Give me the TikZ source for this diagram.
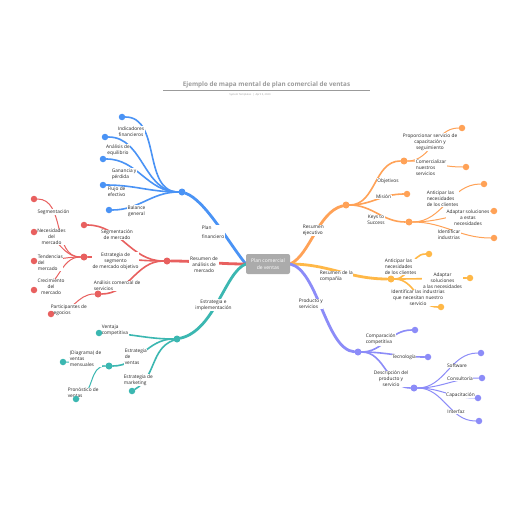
\documentclass[tikz,border=0pt]{standalone}
\usepackage{fontspec}
\setmainfont{Open Sans}
\usepackage{xcolor}
\usepackage{tikz}

\definecolor{mmblue}{HTML}{4A93F5}
\definecolor{mmred}{HTML}{E8605F}
\definecolor{mmteal}{HTML}{3BB7B1}
\definecolor{mmorange}{HTML}{FFA257}
\definecolor{mmyellow}{HTML}{FFB847}
\definecolor{mmpurple}{HTML}{8C8CF8}
\definecolor{mmgray}{HTML}{ABABAB}
\definecolor{mmtitle}{HTML}{9B9B9B}

\pgfdeclarelayer{back}
\pgfdeclarelayer{bg}
\pgfsetlayers{back,bg,main}

\begin{document}
\begin{tikzpicture}[x=1pt,y=-1pt,
  hubdot/.style={circle,fill=#1,inner sep=0pt,minimum size=7pt},
  leafdot/.style={circle,fill=#1,inner sep=0pt,minimum size=6.5pt},
  lbl/.style={font=\fontsize{4.8}{6}\selectfont,fill=white,inner sep=0.6pt,align=center,text=black!85},
  lbll/.style={lbl,align=left,anchor=west},
  mainbr/.style={draw=#1,line width=2.8pt,line cap=round},
  subbr/.style={draw=#1,line width=1.6pt,line cap=round},
  twigbr/.style={draw=#1,line width=1pt,line cap=round}]
  \begin{pgfonlayer}{back}
  \fill[white] (0,0) rectangle (516,516);
  \end{pgfonlayer}
  \useasboundingbox (0,0) rectangle (516,516);

  \node[font=\bfseries\fontsize{6.3}{7}\selectfont,text=mmtitle] (title) at (266.5,85) {Ejemplo de mapa mental de plan comercial de ventas};
  \draw[mmtitle,line width=0.5pt] (163,90) -- (370,90);
  \node[font=\fontsize{2.6}{3}\selectfont,text=mmtitle] (subtitle) at (250,95) {System Templates \ | \ April 3, 2023};

  \node[fill=mmgray,rounded corners=2pt,minimum width=44pt,minimum height=20pt,inner sep=1pt,align=center,text=white,font=\fontsize{5}{6.5}\selectfont] (ctr) at (268,264) {Plan comercial\\de ventas};

  \node[lbll] (lplan) at (201,232) {Plan\\[3pt]financiero};
  \node[lbl] (lbind) at (131,131.5) {Indicadores\\financieros};
  \node[lbl] (lbana) at (118,150) {Análisis de\\equilibrio};
  \node[lbll] (lbgan) at (111,174) {Ganancia y\\pérdida};
  \node[lbll] (lbflu) at (107,192) {Flujo de\\efectivo};
  \node[lbl] (lbbal) at (136.5,211) {Balance\\general};

  \node[lbl] (lrhub) at (204,265) {Resumen de\\análisis de\\mercado};
  \node[lbl] (lrseg) at (117,235) {Segmentación\\de mercado};
  \node[lbl] (lrest) at (115.5,261) {Estrategia de\\segmento\\de mercado objetivo};
  \node[lbll] (lrana) at (93,286) {Análisis comercial de\\servicios};
  \node[lbll] (lrpar) at (50,310) {Participantes de\\negocios};
  \node[lbl] (lrsg) at (53.5,212) {Segmentación};
  \node[lbl] (lrnec) at (51.5,237) {Necesidades\\del\\mercado};
  \node[lbll] (lrten) at (37,263) {Tendencias\\del\\mercado};
  \node[lbl] (lrcre) at (51,287) {Crecimiento\\del\\mercado};

  \node[lbl] (lthub) at (213.5,305) {Estrategia e\\implementación};
  \node[lbll] (ltven) at (101,330.5) {Ventaja\\competitiva};
  \node[lbll] (ltevt) at (124,357) {Estrategia\\de\\ventas};
  \node[lbll] (ltdia) at (69,358.5) {(Diagrama) de\\ventas\\mensuales};
  \node[lbll] (ltpro) at (67,393) {Pronóstico de\\ventas};
  \node[lbll] (ltmkt) at (123,380) {Estrategia de\\marketing};

  \node[lbll] (lohub) at (302,230.5) {Resumen\\ejecutivo};
  \node[lbl] (loobj) at (388,181) {Objetivos};
  \node[lbl] (lomis) at (383.5,197) {Misión};
  \node[lbl] (lokey) at (376,220) {Keys to\\Success};
  \node[lbl] (lopro) at (430,142) {Proporcionar servicio de\\capacitación y\\seguimiento};
  \node[lbll] (locom) at (415,167.5) {Comercializar\\nuestros\\servicios};
  \node[lbll] (loant) at (426,199) {Anticipar las\\necesidades\\de los clientes};
  \node[lbl] (loada) at (468,217.5) {Adaptar soluciones\\a estas\\necesidades};
  \node[lbll] (loide) at (437,235) {Identificar\\industrias};

  \node[lbll] (lyhub) at (319,276.5) {Resumen de la\\compañía};
  \node[lbll] (lyant) at (384,267) {Anticipar las\\necesidades\\de los clientes};
  \node[lbl] (lyada) at (442.5,281) {Adaptar\\soluciones\\a las necesidades};
  \node[lbl] (lyide) at (418,298) {Identificar las industrias\\que necesitan nuestro\\servicio};

  \node[lbll] (lphub) at (298,304) {Producto y\\servicios};
  \node[lbll] (lpcom) at (365,339.5) {Comparación\\competitiva};
  \node[lbl] (lptec) at (404,357) {Tecnología};
  \node[lbl] (lpdes) at (391,379) {Descripción del\\producto y\\servicio};
  \node[lbl] (lpsof) at (457,366) {Software};
  \node[lbl] (lpcon) at (460,379) {Consultoría};
  \node[lbl] (lpcap) at (460.5,395) {Capacitación};
  \node[lbl] (lpint) at (456,412) {Interfaz};

  \node[hubdot=mmblue] (bhub) at (182,192) {};
  \node[leafdot=mmblue] (bind) at (122,117) {};
  \node[leafdot=mmblue] (bana) at (105,137) {};
  \node[leafdot=mmblue] (bgan) at (103,159) {};
  \node[leafdot=mmblue] (bflu) at (103,185) {};
  \node[leafdot=mmblue] (bbal) at (109,210) {};

  \node[hubdot=mmred] (rhub) at (167,261) {};
  \node[leafdot=mmred] (rseg) at (84,225) {};
  \node[hubdot=mmred] (rest) at (84,257) {};
  \node[hubdot=mmred] (rana) at (98,294) {};
  \node[leafdot=mmred] (rpar) at (51,314) {};
  \node[leafdot=mmred] (rsg) at (34,199) {};
  \node[leafdot=mmred] (rnec) at (34,232) {};
  \node[leafdot=mmred] (rten) at (34,261) {};
  \node[leafdot=mmred] (rcre) at (34,290) {};

  \node[hubdot=mmteal] (thub) at (177,339) {};
  \node[leafdot=mmteal] (tven) at (99,333) {};
  \node[hubdot=mmteal] (tevt) at (109,366) {};
  \node[leafdot=mmteal] (tdia) at (63,362) {};
  \node[leafdot=mmteal] (tpro) at (76,399) {};
  \node[leafdot=mmteal] (tmkt) at (132,391) {};

  \node[hubdot=mmorange] (ohub) at (346,205) {};
  \node[hubdot=mmorange] (oobj) at (404,161) {};
  \node[leafdot=mmorange] (opro) at (462,128) {};
  \node[leafdot=mmorange] (ocom) at (466,167) {};
  \node[leafdot=mmorange] (omis) at (407,194) {};
  \node[hubdot=mmorange] (okey) at (409,222) {};
  \node[leafdot=mmorange] (oant) at (484,184) {};
  \node[leafdot=mmorange] (oada) at (494,211) {};
  \node[leafdot=mmorange] (oide) at (494,238) {};

  \node[hubdot=mmyellow] (yhub) at (391,279) {};
  \node[leafdot=mmyellow] (yant) at (429,254) {};
  \node[leafdot=mmyellow] (yada) at (470,278) {};
  \node[leafdot=mmyellow] (yide) at (441,307) {};

  \node[hubdot=mmpurple] (phub) at (358,352) {};
  \node[leafdot=mmpurple] (pcom) at (415,330) {};
  \node[leafdot=mmpurple] (ptec) at (428,357) {};
  \node[hubdot=mmpurple] (pdes) at (414,388) {};
  \node[leafdot=mmpurple] (psof) at (481,353) {};
  \node[leafdot=mmpurple] (pcon) at (482,378) {};
  \node[leafdot=mmpurple] (pcap) at (478,398) {};
  \node[leafdot=mmpurple] (pint) at (479,421) {};

  \begin{pgfonlayer}{bg}
  \draw[mainbr=mmblue] (ctr.west) .. controls (228,242) and (205,200) .. (bhub);
  \draw[mainbr=mmred] (ctr.west) to[out=180,in=0] (rhub);
  \draw[mainbr=mmteal] (ctr.west) .. controls (225,272) and (215,330) .. (thub);
  \draw[mainbr=mmorange] (ctr.east) .. controls (310,255) and (318,212) .. (ohub);
  \draw[mainbr=mmyellow] (ctr.east) to[out=0,in=180] (yhub);
  \draw[mainbr=mmpurple] (ctr.east) .. controls (318,270) and (326,350) .. (phub);

  \draw[subbr=mmblue] (bhub) to[out=180,in=0] (bind);
  \draw[subbr=mmblue] (bhub) to[out=180,in=0] (bana);
  \draw[subbr=mmblue] (bhub) to[out=180,in=0] (bgan);
  \draw[subbr=mmblue] (bhub) to[out=180,in=0] (bflu);
  \draw[subbr=mmblue] (bhub) to[out=180,in=0] (bbal);

  \draw[subbr=mmred] (rhub) to[out=180,in=0] (rseg);
  \draw[subbr=mmred] (rhub) to[out=180,in=0] (rest);
  \draw[subbr=mmred] (rhub) to[out=180,in=0] (rana);
  \draw[twigbr=mmred] (rana) to[out=180,in=0] (rpar);
  \draw[twigbr=mmred] (rest) to[out=180,in=0] (rsg);
  \draw[twigbr=mmred] (rest) to[out=180,in=0] (rnec);
  \draw[twigbr=mmred] (rest) to[out=180,in=0] (rten);
  \draw[twigbr=mmred] (rest) to[out=180,in=0] (rcre);

  \draw[subbr=mmteal] (thub) to[out=180,in=0] (tven);
  \draw[subbr=mmteal] (thub) to[out=180,in=0] (tevt);
  \draw[subbr=mmteal] (thub) to[out=200,in=30] (tmkt);
  \draw[twigbr=mmteal] (tevt) to[out=180,in=0] (tdia);
  \draw[twigbr=mmteal] (tevt) to[out=180,in=20] (tpro);

  \draw[subbr=mmorange] (ohub) to[out=0,in=180] (oobj);
  \draw[subbr=mmorange] (ohub) to[out=0,in=180] (omis);
  \draw[subbr=mmorange] (ohub) to[out=0,in=180] (okey);
  \draw[twigbr=mmorange] (oobj) to[out=0,in=180] (opro);
  \draw[twigbr=mmorange] (oobj) to[out=0,in=180] (ocom);
  \draw[twigbr=mmorange] (okey) to[out=0,in=180] (oant);
  \draw[twigbr=mmorange] (okey) to[out=0,in=180] (oada);
  \draw[twigbr=mmorange] (okey) to[out=0,in=180] (oide);

  \draw[subbr=mmyellow] (yhub) to[out=0,in=180] (yant);
  \draw[subbr=mmyellow] (yhub) to[out=0,in=180] (yada);
  \draw[subbr=mmyellow] (yhub) to[out=0,in=180] (yide);

  \draw[subbr=mmpurple] (phub) to[out=0,in=180] (pcom);
  \draw[subbr=mmpurple] (phub) to[out=0,in=180] (ptec);
  \draw[subbr=mmpurple] (phub) to[out=0,in=180] (pdes);
  \draw[twigbr=mmpurple] (pdes) to[out=0,in=180] (psof);
  \draw[twigbr=mmpurple] (pdes) to[out=0,in=180] (pcon);
  \draw[twigbr=mmpurple] (pdes) to[out=0,in=180] (pcap);
  \draw[twigbr=mmpurple] (pdes) to[out=0,in=180] (pint);
  \end{pgfonlayer}
\end{tikzpicture}
\end{document}
